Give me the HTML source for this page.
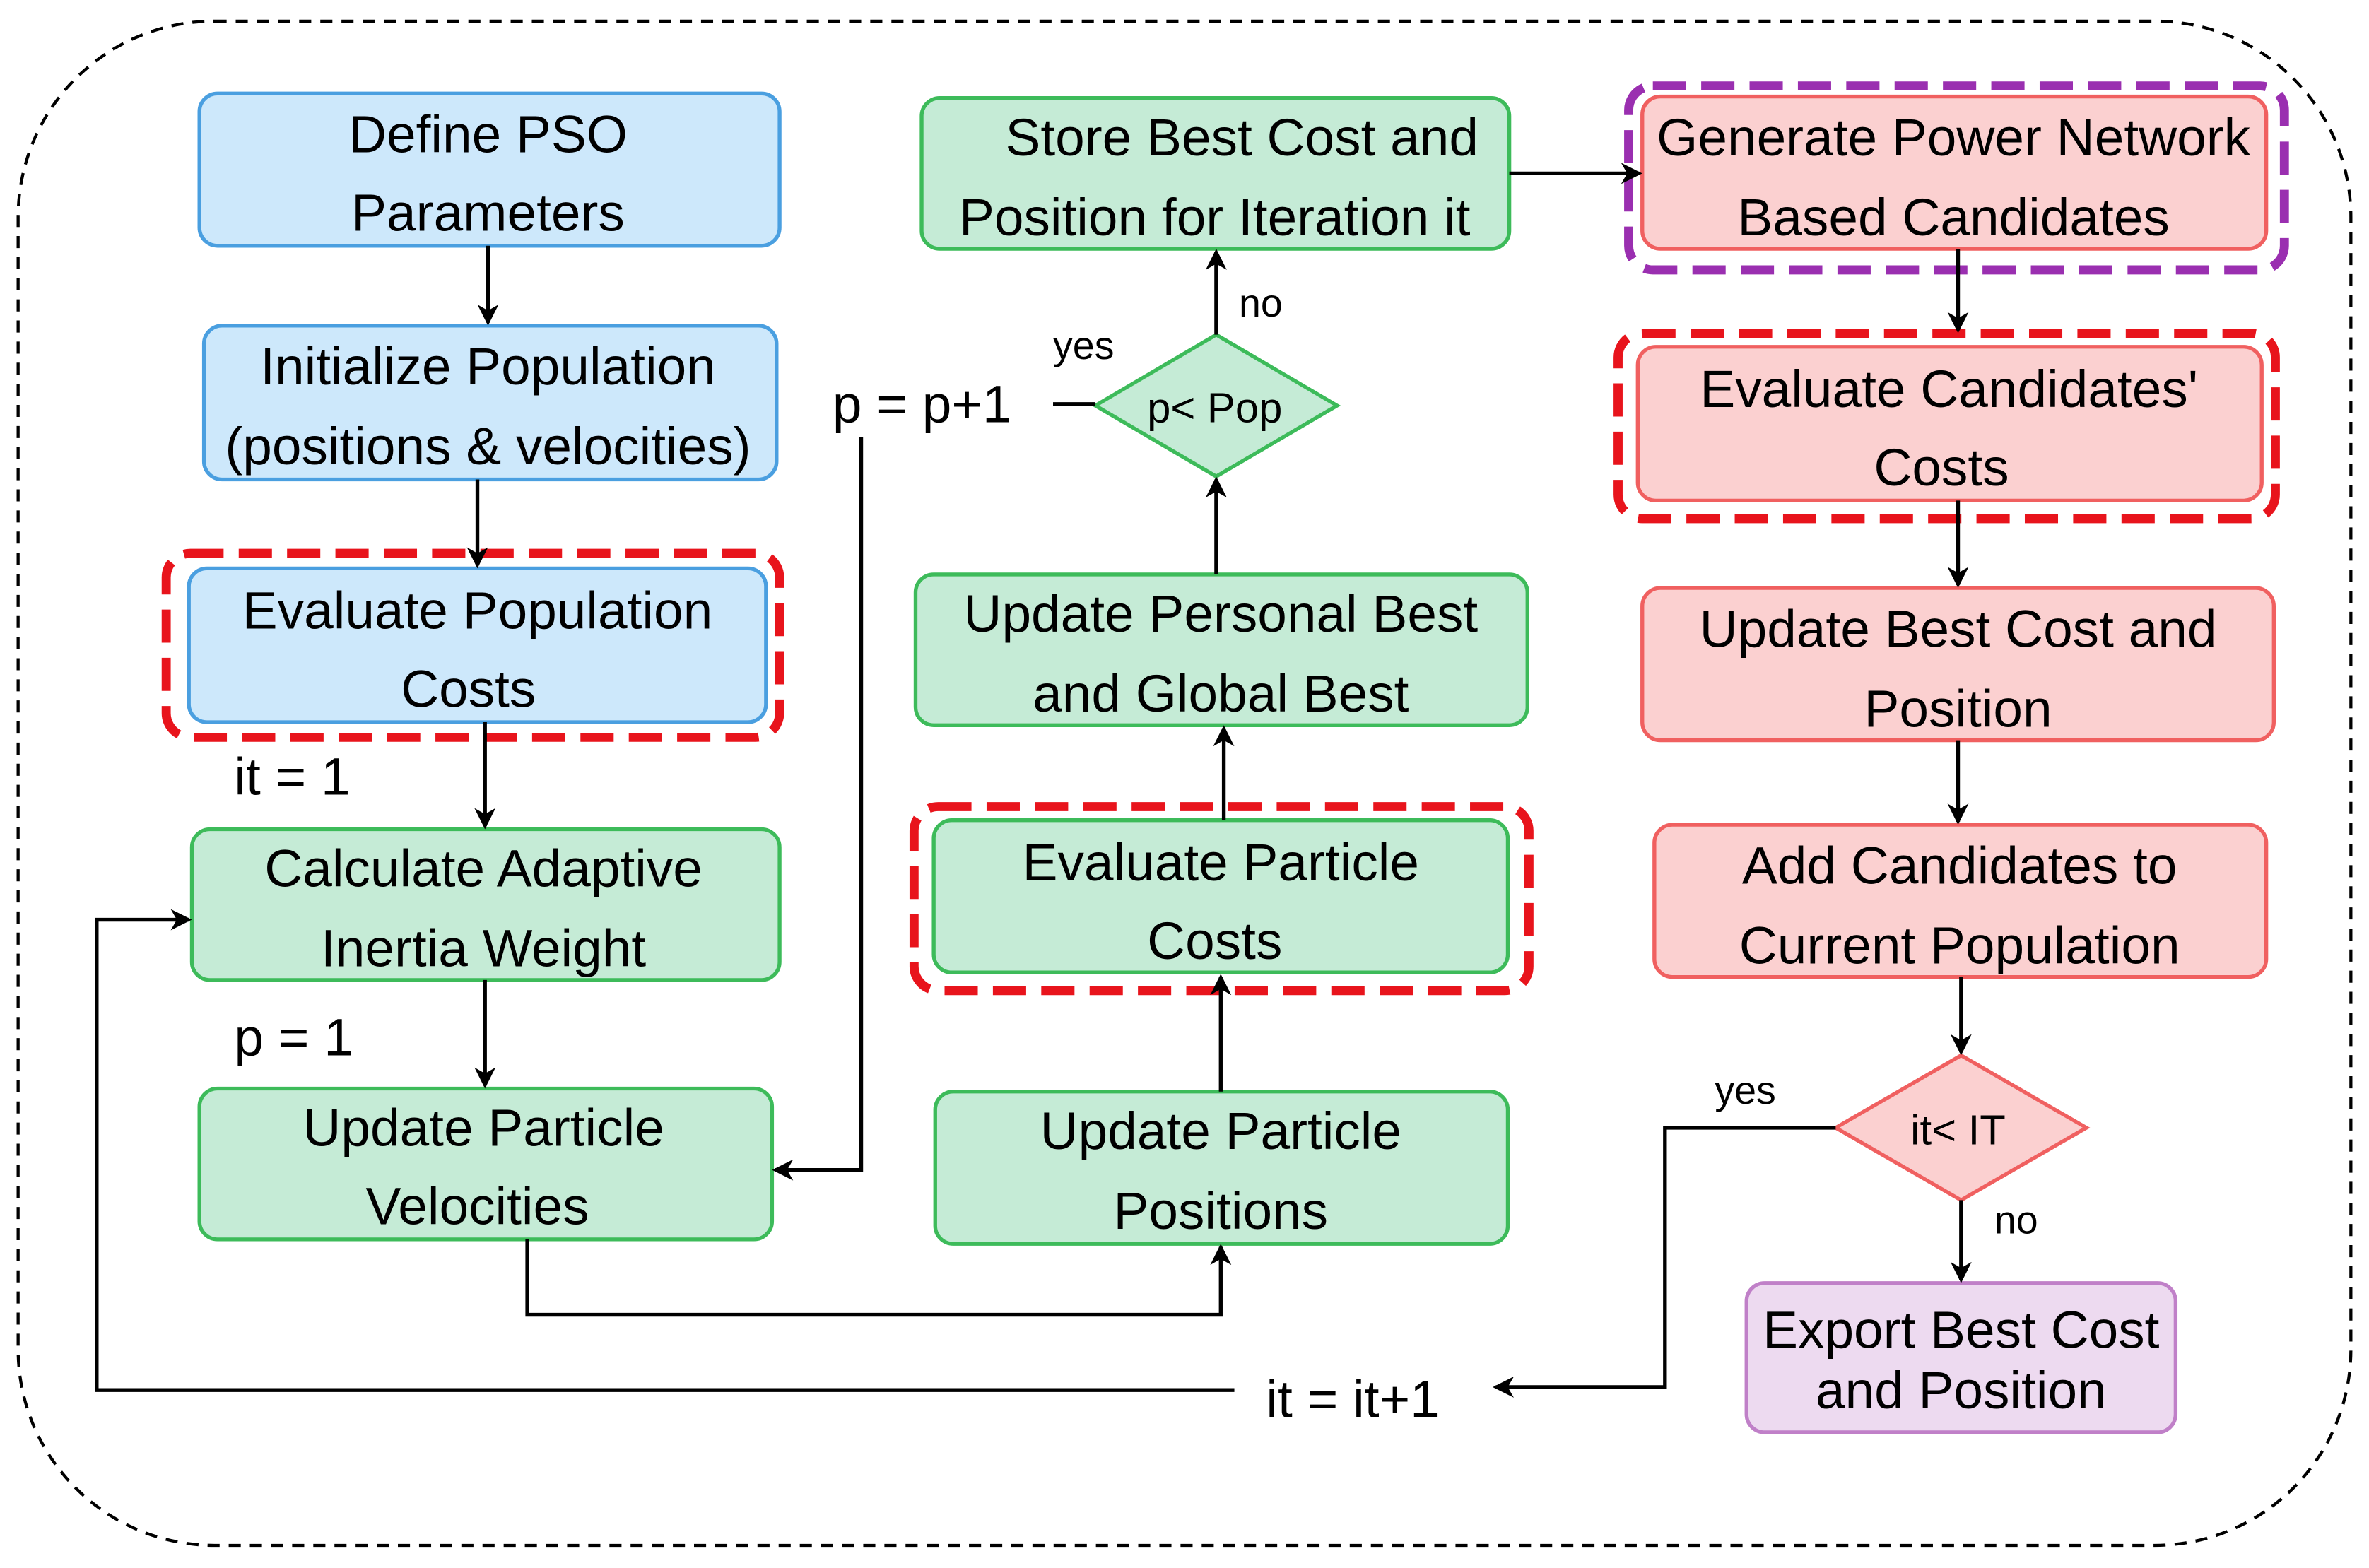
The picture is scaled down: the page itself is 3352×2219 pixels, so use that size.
<!DOCTYPE html>
<html><head><meta charset="utf-8"><style>
html,body{margin:0;padding:0;background:#fff;}
svg{display:block;}
text{font-family:"Liberation Sans",Arial,sans-serif;font-size:35px;fill:#000;}
</style></head><body>
<svg width="3352" height="2219" viewBox="0 0 1568 1040" preserveAspectRatio="none" xmlns="http://www.w3.org/2000/svg">
<defs>
<marker id="a" markerWidth="14" markerHeight="14" refX="12" refY="7" orient="auto" markerUnits="userSpaceOnUse">
<path d="M0,0 L14,7 L0,14 L4,7 Z" fill="#000"/>
</marker>
</defs>
<rect x="0" y="0" width="1568" height="1040" fill="#fff"/>
<rect x="12" y="14" width="1544" height="1011" rx="130" fill="none" stroke="#000" stroke-width="2" stroke-dasharray="8,6"/>

<g fill="#cde8fb" stroke="#4a9fe0" stroke-width="2.5">
<rect x="132" y="62" width="384" height="101" rx="12"/>
<rect x="135" y="216" width="379" height="102" rx="12"/>
<rect x="125" y="377" width="382" height="102" rx="12"/>
</g>
<g fill="#c5ebd6" stroke="#3dbb5a" stroke-width="2.5">
<rect x="127" y="550" width="389" height="100" rx="12"/>
<rect x="132" y="722" width="379" height="100" rx="12"/>
<rect x="619" y="724" width="379" height="101" rx="12"/>
<rect x="618" y="544" width="380" height="101" rx="12"/>
<rect x="606" y="381" width="405" height="100" rx="12"/>
<rect x="610" y="65" width="389" height="100" rx="12"/>
<polygon points="805,222 885,269 805,316 725,269"/>
</g>
<g fill="#fbd0d0" stroke="#f06060" stroke-width="2.5">
<rect x="1087" y="64" width="413" height="101" rx="12"/>
<rect x="1084" y="230" width="413" height="102" rx="12"/>
<rect x="1087" y="390" width="418" height="101" rx="12"/>
<rect x="1095" y="547" width="405" height="101" rx="12"/>
<polygon points="1298,700 1381,748 1298,796 1215,748"/>
</g>
<rect x="1156" y="851" width="284" height="99" rx="12" fill="#eddaf0" stroke="#c080c8" stroke-width="2.5"/>

<g fill="none" stroke-width="6" stroke-dasharray="22,10">
<rect x="110" y="367" width="406" height="122" rx="16" stroke="#e8141c"/>
<rect x="605" y="535" width="407" height="122" rx="16" stroke="#e8141c"/>
<rect x="1071" y="221" width="435" height="123" rx="16" stroke="#e8141c"/>
<rect x="1078" y="57" width="434" height="122" rx="16" stroke="#9a2fb0"/>
</g>

<g fill="none" stroke="#000" stroke-width="2.5" marker-end="url(#a)">
<path d="M323,163 V214"/>
<path d="M316,318 V375"/>
<path d="M321,479 V548"/>
<path d="M321,650 V720"/>
<path d="M349,822 V872 H808 V827"/>
<path d="M808,724 V648"/>
<path d="M810,544 V483"/>
<path d="M805,381 V318"/>
<path d="M805,222 V167"/>
<path d="M570,290 V776 H513"/>
<path d="M999,115 H1085"/>
<path d="M1296,165 V219"/>
<path d="M1296,332 V388"/>
<path d="M1296,491 V545"/>
<path d="M1298,648 V698"/>
<path d="M1298,796 V849"/>
<path d="M1215,748 H1102 V920 H990"/>
<path d="M817,922 H64 V610 H125"/>
</g>
<path d="M697,268 H725" stroke="#000" stroke-width="2.5"/>

<g text-anchor="middle">
<text x="323" y="101">Define PSO</text>
<text x="323" y="153">Parameters</text>
<text x="323" y="255">Initialize Population</text>
<text x="323" y="308">(positions &amp; velocities)</text>
<text x="316" y="417">Evaluate Population</text>
<text x="310" y="469">Costs</text>
<text x="320" y="588">Calculate Adaptive</text>
<text x="320" y="641">Inertia Weight</text>
<text x="320" y="760">Update Particle</text>
<text x="316" y="812">Velocities</text>
<text x="808" y="762">Update Particle</text>
<text x="808" y="815">Positions</text>
<text x="808" y="584">Evaluate Particle</text>
<text x="804" y="636">Costs</text>
<text x="808" y="419">Update Personal Best</text>
<text x="808" y="472">and Global Best</text>
<text x="822" y="103">Store Best Cost and</text>
<text x="804" y="156">Position for Iteration it</text>
<text x="1293" y="103">Generate Power Network</text>
<text x="1293" y="156">Based Candidates</text>
<text x="1290" y="270">Evaluate Candidates'</text>
<text x="1285" y="322">Costs</text>
<text x="1296" y="429">Update Best Cost and</text>
<text x="1296" y="482">Position</text>
<text x="1297" y="586">Add Candidates to</text>
<text x="1297" y="639">Current Population</text>
<text x="1298" y="894">Export Best Cost</text>
<text x="1298" y="934">and Position</text>
<text x="804" y="280" style="font-size:28px">p&lt; Pop</text>
<text x="1296" y="759" style="font-size:28px">it&lt; IT</text>
</g>
<text x="155" y="527">it = 1</text>
<text x="155" y="700">p = 1</text>
<text x="551" y="280">p = p+1</text>
<text x="838" y="940">it = it+1</text>
<text x="820" y="210" style="font-size:26px">no</text>
<text x="697" y="238" style="font-size:26px">yes</text>
<text x="1135" y="732" style="font-size:26px">yes</text>
<text x="1320" y="818" style="font-size:26px">no</text>
</svg>
</body></html>
